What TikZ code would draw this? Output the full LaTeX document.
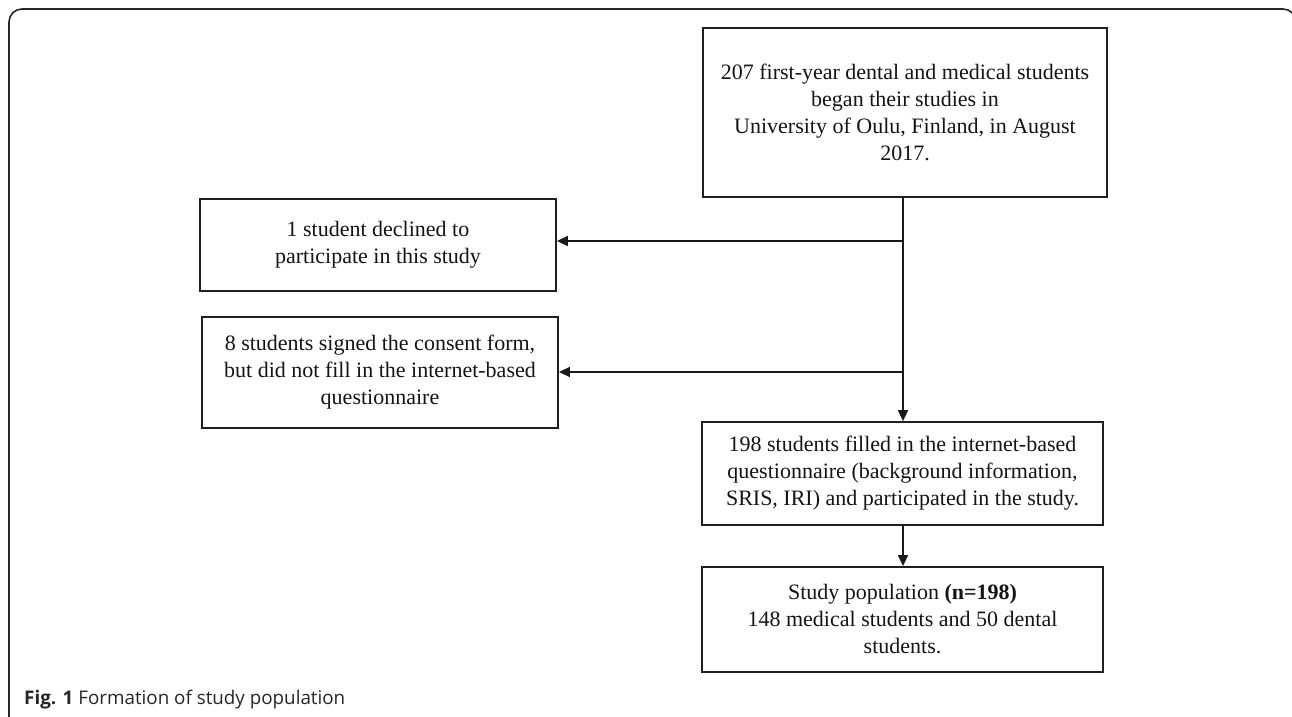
\documentclass[tikz,border=0pt]{standalone}
\usepackage{fontspec}
\setmainfont{Liberation Serif}
\newfontfamily\capfont{Open Sans}
\usetikzlibrary{arrows.meta,calc}
\tikzset{
  box/.style={draw=black!88, line width=1.8pt, align=center, inner sep=0pt,
    font=\fontsize{22}{27}\selectfont, text=black!92},
  conn/.style={draw=black!90, line width=1.6pt, -{Triangle[length=11pt,width=10pt]}},
  frame/.style={draw=black!85, line width=1.6pt, rounded corners=13pt}
}
\begin{document}
\begin{tikzpicture}[x=1pt,y=-1pt]
\useasboundingbox (0,0) rectangle (1292,716);
\draw[frame] (9,720) -- (9,9) -- (1296,9) -- (1296,80);

\node[box, minimum width=404pt, minimum height=169pt] (top) at (905,112.5)
  {207 first-year dental and medical students\\ began their studies in\\ University of Oulu, Finland, in August\\ 2017.};
\node[box, minimum width=356pt, minimum height=92pt] (b1) at (378,245)
  {1 student declined to\\ participate in this study};
\node[box, minimum width=356pt, minimum height=111pt] (b2) at (380,372.5)
  {8 students signed the consent form,\\ but did not fill in the internet-based\\ questionnaire};
\node[box, minimum width=401pt, minimum height=103pt] (b3) at (902.5,473.5)
  {198 students filled in the internet-based\\ questionnaire (background information,\\ SRIS, IRI) and participated in the study.};
\node[box, minimum width=401pt, minimum height=105pt] (b4) at (902.5,619.5)
  {Study population \textbf{(n=198)}\\ 148 medical students and 50 dental\\ students.};

\coordinate (j1) at (903,241);
\coordinate (j2) at (903,372);
\draw[conn] (top.south -| j1) -- (b3.north -| j1);
\draw[conn] (j1) -- (j1 -| b1.east);
\draw[conn] (j2) -- (j2 -| b2.east);
\draw[conn] (b3.south -| j1) -- (b4.north -| j1);

\node[anchor=west, inner sep=0pt, font=\capfont\fontsize{18.8}{22}\selectfont, text=black!85] (cap) at (24,700)
  {\textbf{Fig. 1} Formation of study population};
\end{tikzpicture}
\end{document}
